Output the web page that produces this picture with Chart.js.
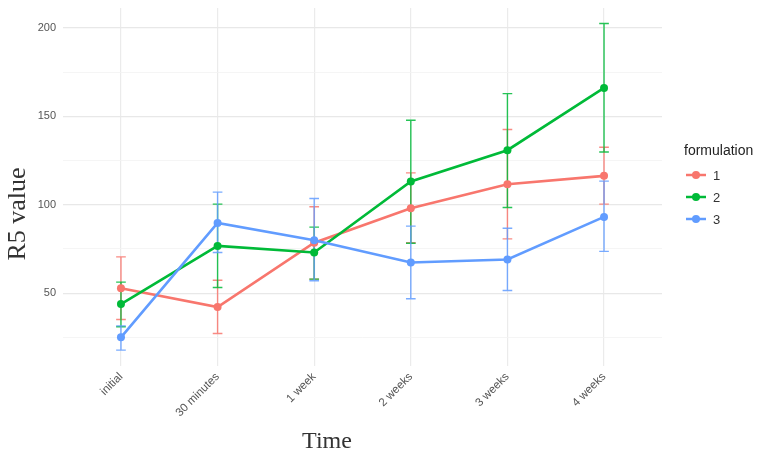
<!DOCTYPE html>
<html>
<head>
<meta charset="utf-8">
<script src="https://cdn.jsdelivr.net/npm/chart.js@4/dist/chart.umd.min.js"></script>
<style>
  html, body { margin: 0; padding: 0; background: #fff; }
  #wrap { width: 759px; height: 456px; }
</style>
</head>
<body>
<div id="wrap"><canvas id="r5Chart" width="759" height="456"></canvas></div>
<script>
// categories on the x axis
const timeLabels = ['initial', '30 minutes', '1 week', '2 weeks', '3 weeks', '4 weeks'];

// formulation 1
const f1Mean  = [52.8, 42.1, 78.5, 98.0, 111.6, 116.3];
const f1Lower = [35.1, 27.2, 57.9, 78.5, 80.7, 100.3];
const f1Upper = [70.5, 57.3, 98.8, 118.0, 142.5, 132.5];

// formulation 2
const f2Mean  = [43.8, 76.7, 73.0, 113.1, 130.8, 166.0];
const f2Lower = [31.0, 53.2, 57.9, 78.2, 98.4, 129.8];
const f2Upper = [56.2, 100.3, 87.3, 147.7, 162.8, 202.4];

// formulation 3
const f3Mean  = [25.0, 89.7, 79.9, 67.3, 69.0, 93.1];
const f3Lower = [17.8, 73.0, 57.0, 46.8, 51.5, 73.6];
const f3Upper = [31.5, 107.1, 103.5, 87.9, 86.7, 113.3];

const yTickValues = [25, 50, 75, 100, 125, 150, 175, 200];
const formulationNames = ['1', '2', '3'];
const seriesColors = ['#F8766D', '#00BA38', '#619CFF'];

function toPoints(values) {
    return values.map((v, i) => ({ x: i, y: v }));
}

function hexToRgba(hex, a) {
    const n = parseInt(hex.slice(1), 16);
    return `rgba(${(n >> 16) & 255}, ${(n >> 8) & 255}, ${n & 255}, ${a})`;
}

const meanSets = [f1Mean, f2Mean, f3Mean];
const lowerSets = [f1Lower, f2Lower, f3Lower];
const upperSets = [f1Upper, f2Upper, f3Upper];

// barras de error dibujadas con las escalas del grafico
const errorBarPlugin = {
    id: 'errorBars',
    beforeDatasetsDraw(chart) {
        const { ctx, scales: { x, y } } = chart;
        ctx.save();
        ctx.lineWidth = 1.4;
        chart.data.datasets.forEach((ds, d) => {
            ctx.strokeStyle = hexToRgba(ds.borderColor, 0.85);
            ds.errLow.forEach((lo, i) => {
                const hi = ds.errHigh[i];
                const px = x.getPixelForValue(i);
                const pLo = y.getPixelForValue(lo);
                const pHi = y.getPixelForValue(hi);
                const half = x.getPixelForValue(0.05) - x.getPixelForValue(0);
                ctx.beginPath();
                ctx.moveTo(px, pLo);
                ctx.lineTo(px, pHi);
                ctx.moveTo(px - half, pLo);
                ctx.lineTo(px + half, pLo);
                ctx.moveTo(px - half, pHi);
                ctx.lineTo(px + half, pHi);
                ctx.stroke();
            });
        });
        ctx.restore();
    }
};

// titulos de ejes y leyenda
const decorPlugin = {
    id: 'decor',
    afterDraw(chart) {
        const ctx = chart.ctx;
        ctx.save();
        ctx.fillStyle = '#333333';
        ctx.font = '24px "Liberation Serif", serif';
        ctx.textAlign = 'center';
        ctx.textBaseline = 'alphabetic';
        ctx.fillText('Time', 327, 448);

        ctx.translate(25, 214);
        ctx.rotate(-Math.PI / 2);
        ctx.font = '26px "Liberation Serif", serif';
        ctx.fillText('R5 value', 0, 0);
        ctx.restore();

        ctx.save();
        ctx.fillStyle = '#222222';
        ctx.font = '14px "Liberation Sans", Arial, sans-serif';
        ctx.textAlign = 'left';
        ctx.textBaseline = 'middle';
        ctx.fillText('formulation', 684, 151);
        const rows = [175, 197, 219];
        chart.data.datasets.forEach((ds, d) => {
            const ly = rows[d];
            ctx.strokeStyle = ds.borderColor;
            ctx.lineWidth = 2.5;
            ctx.beginPath();
            ctx.moveTo(686, ly);
            ctx.lineTo(706, ly);
            ctx.stroke();
            ctx.fillStyle = ds.borderColor;
            ctx.beginPath();
            ctx.arc(696, ly, 4, 0, Math.PI * 2);
            ctx.fill();
            ctx.fillStyle = '#333333';
            ctx.font = '13px "Liberation Sans", Arial, sans-serif';
            ctx.fillText(ds.label, 713, ly + 1);
        });
        ctx.restore();
    }
};

const datasets = formulationNames.map((name, d) => ({
    label: name,
    data: toPoints(meanSets[d]),
    errLow: lowerSets[d],
    errHigh: upperSets[d],
    borderColor: seriesColors[d],
    backgroundColor: seriesColors[d],
    borderWidth: 2.6,
    pointRadius: 4,
    pointBorderWidth: 0,
    pointHoverRadius: 4,
    tension: 0,
    order: 2 - d
}));

const chart = new Chart(document.getElementById('r5Chart').getContext('2d'), {
    type: 'line',
    data: { datasets },
    plugins: [errorBarPlugin, decorPlugin],
    options: {
        responsive: false,
        animation: false,
        layout: { padding: { left: 0, right: 97, top: 8, bottom: 0 } },
        plugins: {
            legend: { display: false },
            tooltip: { enabled: false }
        },
        scales: {
            x: {
                type: 'linear',
                min: -0.6,
                max: 5.6,
                afterBuildTicks: (scale) => { scale.ticks = timeLabels.map((_, i) => ({ value: i })); },
                afterFit: (scale) => { scale.height = 90; scale.paddingLeft = 0; scale.paddingRight = 0; },
                border: { display: false },
                grid: { color: '#ebebeb', lineWidth: 1.2, drawTicks: false },
                ticks: {
                    autoSkip: false,
                    minRotation: 45,
                    maxRotation: 45,
                    padding: 4,
                    color: '#555555',
                    font: { family: '"Liberation Sans", Arial, sans-serif', size: 11.5 },
                    callback: (v) => timeLabels[v] ?? ''
                }
            },
            y: {
                min: 8.8,
                max: 211.2,
                afterBuildTicks: (scale) => { scale.ticks = yTickValues.map(v => ({ value: v })); },
                afterFit: (scale) => { scale.width = 63; scale.paddingTop = 0; scale.paddingBottom = 0; },
                border: { display: false },
                grid: {
                    drawTicks: false,
                    color: (c) => (c.tick && c.tick.value % 50 === 0) ? '#e8e8e8' : '#f2f2f2',
                    lineWidth: (c) => (c.tick && c.tick.value % 50 === 0) ? 1.2 : 0.8
                },
                ticks: {
                    autoSkip: false,
                    padding: 7,
                    color: '#555555',
                    font: { family: '"Liberation Sans", Arial, sans-serif', size: 11 },
                    callback: (v) => (v % 50 === 0 ? String(v) : '')
                }
            }
        }
    }
});
</script>
</body>
</html>
